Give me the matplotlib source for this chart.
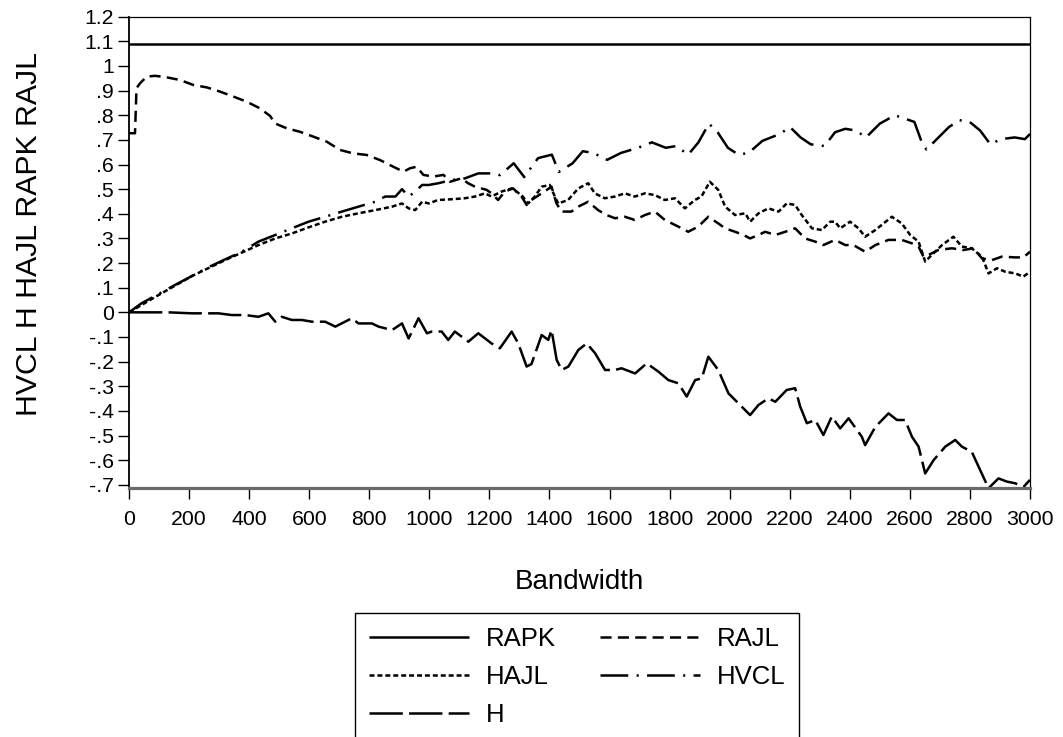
import matplotlib
matplotlib.use('Agg')
import matplotlib.pyplot as plt
from matplotlib.ticker import FixedLocator, FixedFormatter

plt.rcParams['font.family'] = ['Liberation Sans', 'DejaVu Sans']
plt.rcParams['lines.scale_dashes'] = False

# ---------------- data ----------------
rapk_x = [0, 3000]
rapk_y = [1.089, 1.089]

rajl_x = [0, 20, 25, 37, 59, 87, 125, 170, 214, 259, 303, 347, 392, 436, 470, 486,
          525, 569, 614, 658, 703, 747, 791, 836, 880, 914, 936, 958, 980, 1013,
          1047, 1069, 1107, 1129, 1152, 1191, 1207, 1229, 1251, 1279, 1307, 1324,
          1340, 1374, 1407, 1423, 1440, 1473, 1496, 1529, 1562, 1590, 1618, 1651,
          1684, 1718, 1751, 1784, 1829, 1862, 1895, 1929, 1962, 1985, 2018, 2046,
          2068, 2096, 2118, 2152, 2185, 2218, 2251, 2285, 2312, 2351, 2385, 2412,
          2451, 2485, 2529, 2573, 2607, 2629, 2645, 2662, 2695, 2740, 2779, 2812,
          2840, 2873, 2906, 2951, 2978, 3000]
rajl_y = [0.727, 0.727, 0.91, 0.93, 0.957, 0.96, 0.954, 0.943, 0.923, 0.913, 0.896,
          0.876, 0.855, 0.828, 0.797, 0.767, 0.747, 0.733, 0.713, 0.693, 0.659,
          0.645, 0.639, 0.618, 0.591, 0.571, 0.585, 0.591, 0.558, 0.551, 0.558,
          0.53, 0.544, 0.524, 0.51, 0.497, 0.483, 0.456, 0.49, 0.503, 0.47, 0.436,
          0.456, 0.483, 0.51, 0.443, 0.409, 0.409, 0.429, 0.449, 0.415, 0.395,
          0.382, 0.388, 0.375, 0.395, 0.409, 0.375, 0.348, 0.327, 0.348, 0.388,
          0.361, 0.341, 0.327, 0.314, 0.30, 0.314, 0.327, 0.314, 0.327, 0.341,
          0.30, 0.287, 0.273, 0.294, 0.273, 0.273, 0.246, 0.273, 0.294, 0.294,
          0.28, 0.267, 0.226, 0.233, 0.253, 0.26, 0.253, 0.26, 0.219, 0.212,
          0.226, 0.223, 0.223, 0.246]

hajl_x = [0, 98, 209, 320, 431, 487, 542, 598, 653, 709, 764, 820, 876, 909, 931,
          953, 976, 998, 1029, 1074, 1118, 1152, 1185, 1207, 1240, 1274, 1307,
          1329, 1351, 1374, 1401, 1418, 1429, 1462, 1496, 1529, 1551, 1584, 1618,
          1651, 1684, 1718, 1751, 1784, 1818, 1851, 1884, 1906, 1934, 1962, 1985,
          2018, 2052, 2068, 2096, 2129, 2163, 2190, 2218, 2240, 2274, 2307, 2335,
          2351, 2368, 2401, 2429, 2451, 2485, 2540, 2573, 2601, 2629, 2651, 2673,
          2707, 2745, 2773, 2806, 2840, 2862, 2890, 2917, 2951, 2978, 3000]
hajl_y = [0.0, 0.07, 0.147, 0.212, 0.273, 0.30, 0.32, 0.345, 0.368, 0.388, 0.402,
          0.415, 0.429, 0.442, 0.422, 0.415, 0.449, 0.442, 0.456, 0.459, 0.463,
          0.47, 0.483, 0.47, 0.49, 0.503, 0.476, 0.442, 0.47, 0.51, 0.517, 0.47,
          0.442, 0.456, 0.503, 0.524, 0.483, 0.463, 0.47, 0.483, 0.47, 0.483,
          0.476, 0.456, 0.463, 0.422, 0.456, 0.47, 0.53, 0.497, 0.429, 0.395,
          0.402, 0.368, 0.402, 0.422, 0.409, 0.442, 0.436, 0.395, 0.341, 0.334,
          0.368, 0.368, 0.341, 0.368, 0.341, 0.307, 0.334, 0.388, 0.361, 0.314,
          0.287, 0.206, 0.233, 0.273, 0.307, 0.267, 0.26, 0.226, 0.158, 0.179,
          0.165, 0.158, 0.145, 0.165]

hvcl_x = [0, 42, 98, 153, 209, 264, 320, 376, 431, 487, 542, 598, 653, 709, 764,
          820, 853, 887, 909, 931, 953, 976, 998, 1030, 1074, 1119, 1163, 1207,
          1235, 1281, 1316, 1362, 1408, 1431, 1477, 1511, 1546, 1592, 1638, 1695,
          1741, 1787, 1822, 1862, 1896, 1931, 1960, 1994, 2029, 2063, 2109, 2167,
          2201, 2236, 2270, 2316, 2351, 2385, 2420, 2454, 2500, 2550, 2615, 2638,
          2655, 2684, 2730, 2765, 2799, 2834, 2868, 2903, 2949, 2983, 3000]
hvcl_y = [0.0, 0.037, 0.074, 0.111, 0.147, 0.183, 0.215, 0.246, 0.287, 0.314,
          0.341, 0.368, 0.388, 0.409, 0.429, 0.449, 0.47, 0.47, 0.50, 0.47, 0.49,
          0.517, 0.517, 0.524, 0.537, 0.544, 0.564, 0.564, 0.557, 0.605, 0.549,
          0.626, 0.64, 0.57, 0.605, 0.654, 0.647, 0.619, 0.647, 0.668, 0.69,
          0.668, 0.675, 0.64, 0.69, 0.766, 0.731, 0.668, 0.64, 0.647, 0.696,
          0.724, 0.752, 0.71, 0.682, 0.675, 0.731, 0.745, 0.738, 0.71, 0.766,
          0.80, 0.773, 0.696, 0.661, 0.696, 0.752, 0.78, 0.773, 0.738, 0.682,
          0.703, 0.71, 0.703, 0.724]

h_x = [0, 131, 209, 298, 342, 387, 431, 464, 487, 509, 542, 576, 609, 653, 687,
       742, 764, 809, 831, 876, 909, 931, 964, 992, 1008, 1041, 1063, 1085, 1130,
       1163, 1207, 1235, 1274, 1296, 1324, 1340, 1374, 1396, 1407, 1424, 1441,
       1463, 1496, 1524, 1552, 1585, 1618, 1640, 1685, 1724, 1763, 1796, 1829,
       1857, 1885, 1907, 1929, 1962, 1996, 2029, 2068, 2096, 2129, 2152, 2190,
       2218, 2235, 2257, 2285, 2312, 2340, 2368, 2396, 2440, 2451, 2485, 2529,
       2557, 2584, 2607, 2629, 2651, 2679, 2718, 2751, 2773, 2806, 2834, 2862,
       2895, 2923, 2951, 2979, 3000]
h_y = [0.0, 0.0, -0.004, -0.004, -0.011, -0.011, -0.018, -0.004, -0.038, -0.018,
       -0.031, -0.031, -0.038, -0.038, -0.058, -0.024, -0.045, -0.045, -0.058,
       -0.072, -0.045, -0.106, -0.024, -0.085, -0.078, -0.078, -0.112, -0.078,
       -0.119, -0.085, -0.126, -0.146, -0.078, -0.126, -0.22, -0.21, -0.092,
       -0.112, -0.072, -0.193, -0.234, -0.22, -0.153, -0.126, -0.166, -0.234,
       -0.234, -0.227, -0.248, -0.207, -0.241, -0.275, -0.288, -0.342, -0.275,
       -0.268, -0.18, -0.234, -0.329, -0.369, -0.417, -0.376, -0.349, -0.363,
       -0.315, -0.308, -0.383, -0.45, -0.437, -0.498, -0.423, -0.471, -0.43,
       -0.505, -0.539, -0.465, -0.41, -0.437, -0.437, -0.505, -0.545, -0.654,
       -0.60, -0.545, -0.518, -0.545, -0.566, -0.64, -0.714, -0.674, -0.687,
       -0.694, -0.708, -0.68]

y_ticks = [-0.7, -0.6, -0.5, -0.4, -0.3, -0.2, -0.1, 0.0, 0.1, 0.2, 0.3, 0.4,
           0.5, 0.6, 0.7, 0.8, 0.9, 1.0, 1.1, 1.2]
y_labels = ['-.7', '-.6', '-.5', '-.4', '-.3', '-.2', '-.1', '0', '.1', '.2', '.3',
            '.4', '.5', '.6', '.7', '.8', '.9', '1', '1.1', '1.2']
x_ticks = list(range(0, 3001, 200))
x_labels = [str(v) for v in x_ticks]

# ---------------- figure ----------------
W, H = 1063, 737
fig = plt.figure(figsize=(W / 100, H / 100), dpi=100)
L, R, T, B = 129, 1030, 16.7, 488
ax = fig.add_axes([L / W, 1 - B / H, (R - L) / W, (B - T) / H])

lw = 1.8
l_rapk, = ax.plot(rapk_x, rapk_y, color='black', lw=lw, solid_capstyle='butt')
l_rajl, = ax.plot(rajl_x, rajl_y, color='black', lw=lw, dashes=(8, 4.5))
l_hajl, = ax.plot(hajl_x, hajl_y, color='black', lw=lw, dashes=(3.6, 2.1))
l_hvcl, = ax.plot(hvcl_x, hvcl_y, color='black', lw=lw, dashes=(20, 6, 1.5, 6))
l_h, = ax.plot(h_x, h_y, color='black', lw=lw, dashes=(24, 4.5))

ax.set_xlim(0, 3000)
ax.set_ylim(-0.713, 1.2)
ax.xaxis.set_major_locator(FixedLocator(x_ticks))
ax.xaxis.set_major_formatter(FixedFormatter(x_labels))
ax.yaxis.set_major_locator(FixedLocator(y_ticks))
ax.yaxis.set_major_formatter(FixedFormatter(y_labels))
ax.tick_params(axis='both', direction='out', length=8, width=1.0, color='black',
               labelsize=15.3)
ax.tick_params(axis='x', pad=8)
ax.tick_params(axis='y', pad=3)

for s in ['top', 'right']:
    ax.spines[s].set_linewidth(0.9)
    ax.spines[s].set_color('black')
ax.spines['left'].set_linewidth(1.3)
ax.spines['left'].set_color('black')
ax.spines['bottom'].set_linewidth(2.3)
ax.spines['bottom'].set_color('#6a6a6a')

fig.text(579.5 / W, 1 - 589.3 / H, 'Bandwidth', ha='center', va='baseline',
         fontsize=20)
fig.text(37 / W, 1 - 234 / H, 'HVCL H HAJL RAPK RAJL', rotation=90,
         rotation_mode='anchor', ha='center', va='baseline', fontsize=21.8)

leg = fig.legend([l_rapk, l_hajl, l_h, l_rajl, l_hvcl],
                 ['RAPK', 'HAJL', 'H', 'RAJL', 'HVCL'],
                 ncol=2, loc='upper left', bbox_to_anchor=(355 / W, 1 - 613 / H),
                 borderaxespad=0, fontsize=18.5, frameon=True, fancybox=False,
                 handlelength=3.9, handletextpad=0.65, columnspacing=1.7,
                 labelspacing=0.55, borderpad=0.55)
leg.get_frame().set_edgecolor('black')
leg.get_frame().set_linewidth(1.0)
leg.get_frame().set_alpha(1)

fig.savefig('out.png', dpi=100)
